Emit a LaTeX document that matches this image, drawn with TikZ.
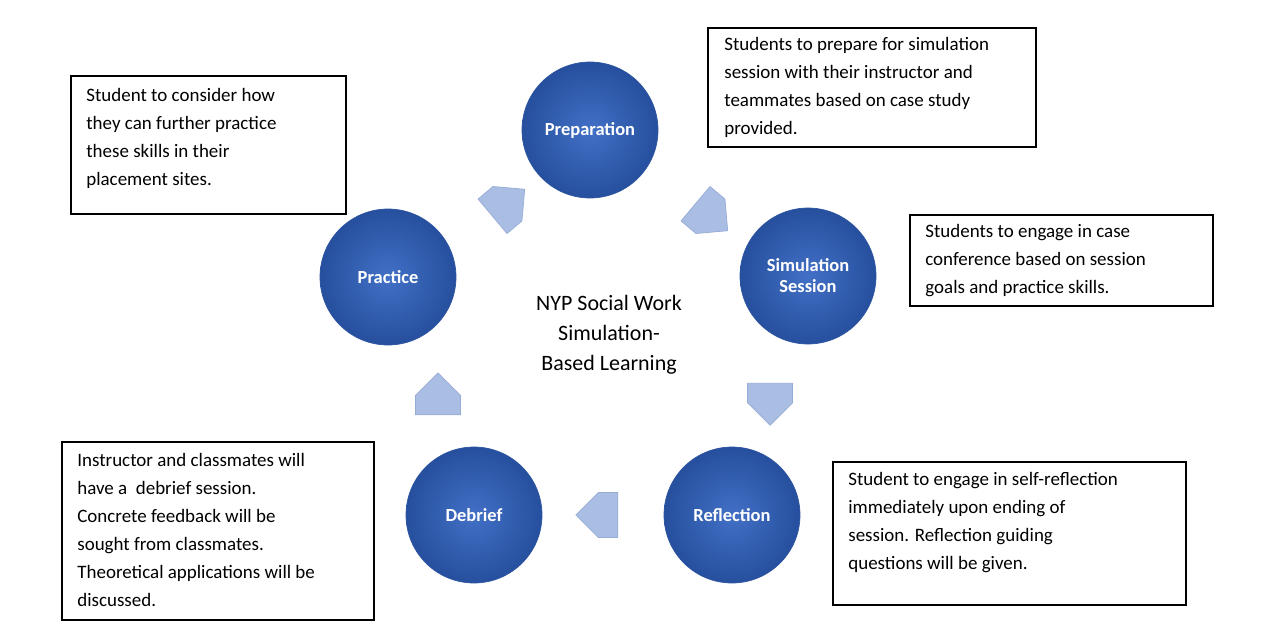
\documentclass[tikz,border=0pt]{standalone}
\usepackage{fontspec}
\setmainfont{Carlito}
\usetikzlibrary{shapes.arrows}
\definecolor{cin}{RGB}{66,112,198}
\definecolor{cout}{RGB}{38,80,158}
\definecolor{cedge}{RGB}{45,85,160}
\definecolor{afill}{RGB}{170,190,228}
\definecolor{aedge}{RGB}{150,172,215}
\begin{document}
\begin{tikzpicture}[x=0.02cm,y=-0.02cm,
  circ/.style={circle,minimum size=2.72cm,inner sep=0pt,draw=cedge,line width=0.4pt,inner color=cin,outer color=cout,text=white,font=\bfseries\fontsize{10.5}{12}\selectfont,align=center},
  arr/.style={single arrow,fill=afill,draw=aedge,minimum height=0.84cm,minimum width=0.9cm,single arrow head extend=0pt,inner sep=4pt},
  box/.style={draw=black,line width=0.6pt},
  txt/.style={align=left,anchor=north west,inner sep=0pt,font=\fontsize{10.8}{15.9}\selectfont}]
\useasboundingbox[fill=white] (0,0) rectangle (1269,643);
\node[circ] (prep) at (590,130) {Preparation};
\node[circ] (sim) at (808,276) {Simulation\\Session};
\node[circ] (refl) at (732,515) {Reflection};
\node[circ] (deb) at (474,515) {Debrief};
\node[circ] (prac) at (388,277) {Practice};
\node[align=center,font=\fontsize{12.5}{17}\selectfont] (c) at (609,335) {NYP Social Work\\Simulation-\\Based Learning};
\node[arr,rotate=40] (a1) at (500,210) {};
\node[arr,rotate=-40] (a2) at (703,210) {};
\node[arr,rotate=-90] (a3) at (770,393) {};
\node[arr,rotate=180] (a4) at (608,515) {};
\node[arr,rotate=90] (a5) at (438,405) {};
\draw[box] (71,76) rectangle (346,214);
\node[txt] (t1) at (86,88) {Student to consider how\\they can further practice\\these skills in their\\placement sites.};
\draw[box] (708,28) rectangle (1036,147);
\node[txt] (t2) at (724,37) {Students to prepare for simulation\\session with their instructor and\\teammates based on case study\\provided.};
\draw[box] (910,215) rectangle (1213,306);
\node[txt] (t3) at (925,224) {Students to engage in case\\conference based on session\\goals and practice skills.};
\draw[box] (62,442) rectangle (374,620);
\node[txt] (t4) at (77,453) {Instructor and classmates will\\have a~ debrief session.\\Concrete feedback will be\\sought from classmates.\\Theoretical applications will be\\discussed.};
\draw[box] (833,462) rectangle (1186,605);
\node[txt] (t5) at (848,472) {Student to engage in self-reflection\\immediately upon ending of\\session. Reflection guiding\\questions will be given.};
\end{tikzpicture}
\end{document}
